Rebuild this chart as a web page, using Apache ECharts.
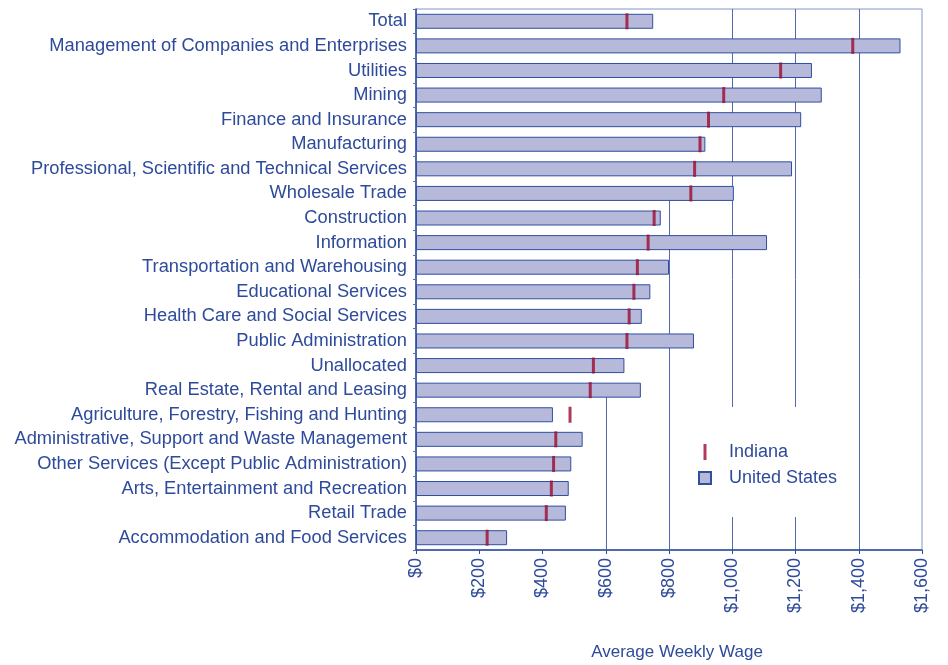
<!DOCTYPE html>
<html>
<head>
<meta charset="utf-8">
<title>Average Weekly Wage</title>
<script src="https://cdn.jsdelivr.net/npm/echarts@6/dist/echarts.min.js"></script>
<style>
  html, body { margin: 0; padding: 0; background: #fff; }
  #chart { width: 948px; height: 665px; }
</style>
</head>
<body>
<div id="chart"></div>
<script>
// industries, top to bottom
const categories = [
  'Total',
  'Management of Companies and Enterprises',
  'Utilities',
  'Mining',
  'Finance and Insurance',
  'Manufacturing',
  'Professional, Scientific and Technical Services',
  'Wholesale Trade',
  'Construction',
  'Information',
  'Transportation and Warehousing',
  'Educational Services',
  'Health Care and Social Services',
  'Public Administration',
  'Unallocated',
  'Real Estate, Rental and Leasing',
  'Agriculture, Forestry, Fishing and Hunting',
  'Administrative, Support and Waste Management',
  'Other Services (Except Public Administration)',
  'Arts, Entertainment and Recreation',
  'Retail Trade',
  'Accommodation and Food Services'
]

// average weekly wage, dollars
const unitedStates = [750, 1532, 1252, 1283, 1218, 915, 1189, 1005, 774, 1110, 800, 741, 714, 879, 659, 711, 433, 527, 491, 483, 474, 288]
const indiana = [667, 1381, 1153, 973, 925, 898, 881, 869, 753, 734, 700, 689, 674, 667, 561, 551, 487, 442, 435, 428, 412, 225]

const FONT = '"Liberation Sans", Arial, sans-serif'
const TEXT = '#2e4b9b'
const AXIS = '#2d4a9b'
const GRID = '#5269ae'

const chart = echarts.init(document.getElementById('chart'))

const option = {
  animation: false,
  textStyle: { fontFamily: FONT },
  grid: {
    left: 416,
    right: 26,
    top: 9,
    bottom: 115,
    outerBoundsMode: 'none',
    show: true,
    borderColor: '#8396c8',
    borderWidth: 1
  },
  legend: {
    orient: 'vertical',
    left: 690,
    top: 407,
    padding: [36, 12, 30, 8],
    backgroundColor: '#fff',
    itemWidth: 12,
    itemHeight: 16,
    itemGap: 8,
    selectedMode: false,
    textStyle: {
      color: TEXT,
      fontSize: 18,
      lineHeight: 16,
      padding: [0, 0, 0, 13]
    },
    data: [
      { name: 'Indiana', icon: 'path://M0,0h3v16h-3z' },
      { name: 'United States', icon: 'path://M0,0h12v12h-12z' }
    ]
  },
  xAxis: {
    type: 'value',
    min: 0,
    max: 1600,
    interval: 200,
    name: 'Average Weekly Wage',
    nameLocation: 'middle',
    nameGap: 94,
    nameTextStyle: { color: TEXT, fontSize: 17, padding: [0, 0, 0, 16] },
    axisLine: { show: true, onZero: false, lineStyle: { color: AXIS, width: 1.5 } },
    axisTick: { show: true, length: 4, lineStyle: { color: AXIS } },
    axisLabel: {
      rotate: 90,
      margin: 8,
      color: TEXT,
      fontSize: 18,
      formatter: v => '$' + v.toLocaleString('en-US')
    },
    // only the upper gridlines run the full height
    splitLine: {
      show: true,
      lineStyle: {
        width: 1,
        color: ['transparent', 'transparent', 'transparent', 'transparent', 'transparent', GRID, GRID, GRID, 'transparent']
      }
    }
  },
  yAxis: [
    {
      type: 'category',
      data: categories,
      inverse: true,
      axisLine: { show: true, onZero: false, lineStyle: { color: AXIS, width: 1.5 } },
      axisTick: { show: true, length: 3, lineStyle: { color: '#5a70b3' } },
      axisLabel: { color: TEXT, fontSize: 18.3, margin: 9 },
      splitLine: { show: false }
    },
    {
      // hidden helper axis in row units, for the short gridlines
      type: 'value',
      min: -0.5,
      max: 21.5,
      inverse: true,
      show: false,
      axisLine: { show: false },
      axisTick: { show: false },
      splitLine: { show: false }
    }
  ],
  series: [
    {
      name: 'gridlines',
      type: 'scatter',
      yAxisIndex: 1,
      data: [],
      silent: true,
      markLine: {
        z: 1,
        silent: true,
        symbol: 'none',
        label: { show: false },
        lineStyle: { color: GRID, width: 1, type: 'solid' },
        data: [
          [{ coord: [600, 15] }, { coord: [600, 21.5] }],
          [{ coord: [800, 7] }, { coord: [800, 21.5] }]
        ]
      }
    },
    {
      name: 'United States',
      type: 'bar',
      z: 2,
      barWidth: 15,
      data: unitedStates,
      itemStyle: {
        color: '#b7b9db',
        borderColor: '#2f4f9f',
        borderWidth: 1
      }
    },
    {
      name: 'Indiana',
      type: 'scatter',
      z: 3,
      symbol: 'rect',
      symbolSize: [3, 16],
      data: indiana,
      itemStyle: { color: '#9b0a2e' }
    }
  ]
}

chart.setOption(option)
window.addEventListener('resize', () => chart.resize())
</script>
</body>
</html>
